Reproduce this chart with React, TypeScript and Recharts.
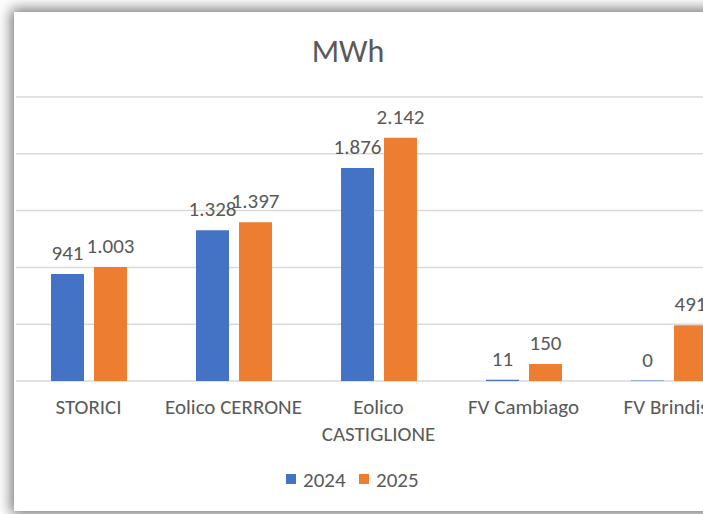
import React from 'react';
import { BarChart, Bar, XAxis, YAxis, CartesianGrid, LabelList, Legend } from 'recharts';

const categories = ['STORICI', 'Eolico CERRONE', 'Eolico CASTIGLIONE', 'FV Cambiago', 'FV Brindisi'];
const values2024 = [941, 1328, 1876, 11, 0];
const values2025 = [1003, 1397, 2142, 150, 491];
const yTicks = [0, 500, 1000, 1500, 2000, 2500];
const seriesNames = ['2024', '2025'];
const seriesColors = ['#4472C4', '#ED7D31'];
const title = 'MWh';

const data = categories.map((c, i) => ({ name: c, a: values2024[i], b: values2025[i] }));

const FONT = 'Carlito, Calibri, Lato, sans-serif';
const TEXT = '#595959';
const FS = 21;

const fmt = (v: any) => String(v).replace(/\B(?=(\d{3})+(?!\d))/g, '.');

// wrap long category names at the first space (as the category band is narrow)
const wrapLabel = (s: string): string[] => {
  if (s.length <= 16) return [s];
  const k = s.indexOf(' ');
  return k < 0 ? [s] : [s.slice(0, k), s.slice(k + 1)];
};

const Tick = (props: any) => {
  const { x, y, payload } = props;
  const lines = wrapLabel(String(payload.value));
  return (
    <text x={x} y={y + 25} textAnchor="middle" fill={TEXT} style={{ fontFamily: FONT, fontSize: FS }}>
      {lines.map((l, i) => (
        <tspan key={i} x={x} dy={i === 0 ? 0 : 27}>{l}</tspan>
      ))}
    </text>
  );
};

const LegendContent = (props: any) => {
  const { payload } = props;
  return (
    <svg width={160} height={30} style={{ overflow: 'visible' }}>
      {(payload || []).map((p: any, i: number) => (
        <g key={i} transform={`translate(${i * 73},0)`}>
          <rect x={10} y={8} width={10} height={10} fill={p.color} />
          <text x={27} y={21} fill={TEXT} style={{ fontFamily: FONT, fontSize: FS }}>{p.value}</text>
        </g>
      ))}
    </svg>
  );
};

export default function App() {
  return (
    <div style={{ position: 'fixed', left: 0, top: 0, width: 703, height: 514, overflow: 'hidden', background: '#fff' }}>
      <div style={{ position: 'absolute', left: 14, top: 12, width: 900, height: 499, background: '#fff', boxShadow: '0 0 13px 3px rgba(0,0,0,0.55)' }} />
      <svg style={{ position: 'absolute', left: 0, top: 0 }} width={703} height={100}>
        <text x={348} y={62} textAnchor="middle" fill={TEXT} style={{ fontFamily: FONT, fontSize: 32 }}>{title}</text>
      </svg>
      <div style={{ position: 'absolute', left: 0, top: 0 }}>
        <BarChart
          width={760}
          height={514}
          data={data}
          margin={{ top: 97, right: 19, left: 16, bottom: 0 }}
          barCategoryGap={35}
          barGap={10}
        >
          <CartesianGrid vertical={false} stroke="#D9D9D9" strokeWidth={1.5} />
          <XAxis dataKey="name" axisLine={false} tickLine={false} interval={0} height={133} tick={<Tick />} />
          <YAxis hide domain={[0, 2500]} ticks={yTicks} />
          <Legend
            layout="horizontal"
            verticalAlign="middle"
            align="center"
            content={<LegendContent />}
            wrapperStyle={{ top: 466, left: 276, width: 160, height: 30 }}
          />
          <Bar dataKey="a" name={seriesNames[0]} fill={seriesColors[0]} minPointSize={0.4} isAnimationActive={false}>
            <LabelList dataKey="a" position="top" offset={14} formatter={fmt} fill={TEXT} style={{ fontFamily: FONT, fontSize: FS }} />
          </Bar>
          <Bar dataKey="b" name={seriesNames[1]} fill={seriesColors[1]} isAnimationActive={false}>
            <LabelList dataKey="b" position="top" offset={14} formatter={fmt} fill={TEXT} style={{ fontFamily: FONT, fontSize: FS }} />
          </Bar>
        </BarChart>
      </div>
    </div>
  );
}
